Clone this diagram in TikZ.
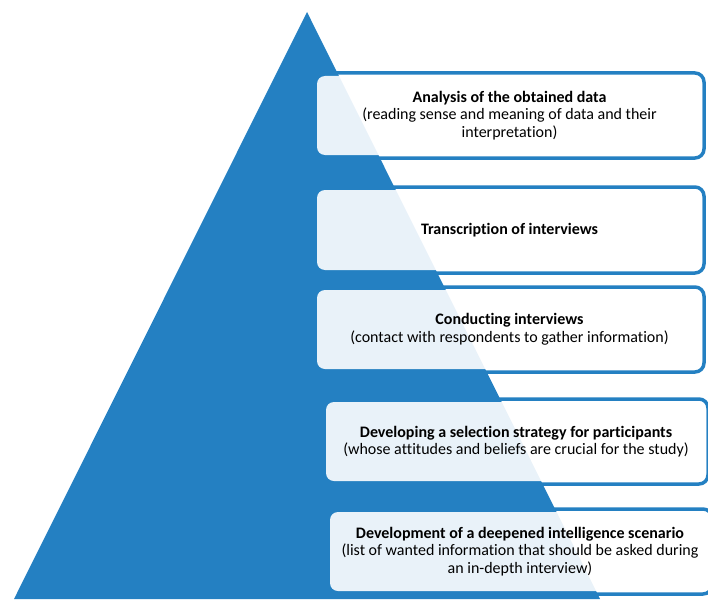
\documentclass[tikz,border=0pt]{standalone}
\usepackage{fontspec}
\setmainfont[Ligatures={NoCommon}]{Carlito}
\definecolor{pyrblue}{RGB}{36,128,194}

\begin{document}
\begin{tikzpicture}[x=1pt,y=-1pt,
  stepframe/.style={draw=pyrblue, line width=3.5pt, rounded corners=9pt},
  stepfill/.style={fill=white, fill opacity=0.9, rounded corners=8pt},
  steptext/.style={align=center, font=\fontsize{16}{17.5}\selectfont}]
  \useasboundingbox (0,0) rectangle (708,599);
  \clip (0,0) rectangle (708,599);
  % the pyramid
  \fill[pyrblue] (307,12) -- (600,599) -- (14,599) -- cycle;
  % the steps, from the top down
  \foreach \xa/\ya/\xb/\yb/\txt [count=\i] in {
      317/76/702/155/{\textbf{Analysis of the obtained data}\\(reading sense and meaning of data and their\\interpretation)},
      317/190/702/270/{\textbf{Transcription of interviews}},
      317/290/702/369/{\textbf{Conducting interviews}\\(contact with respondents to gather information)},
      326/402/706/481/{\textbf{Developing a selection strategy for participants}\\(whose attitudes and beliefs are crucial for the study)},
      330/512/710/591/{\textbf{Development of a deepened intelligence scenario}\\(list of wanted information that should be asked during\\an in-depth interview)}} {
    \draw[stepframe] (\xa+4,\ya-3) rectangle (\xb+2,\yb+3);
    \fill[stepfill] (\xa,\ya) rectangle (\xb,\yb);
    \node[steptext] (step\i) at ({(\xa+\xb)/2},{(\ya+\yb)/2}) {\txt};
  }
\end{tikzpicture}
\end{document}
